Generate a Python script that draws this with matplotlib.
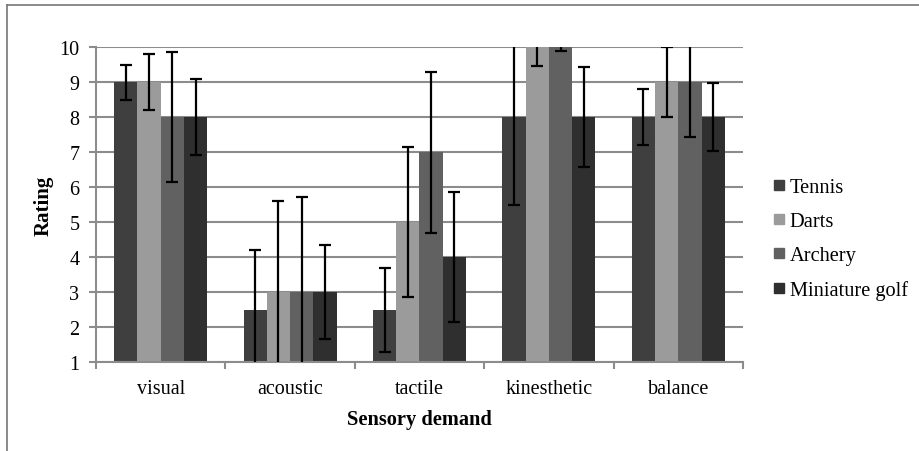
import matplotlib
matplotlib.use("Agg")
import matplotlib.pyplot as plt
import numpy as np
from matplotlib.lines import Line2D

categories = ["visual", "acoustic", "tactile", "kinesthetic", "balance"]
series_names = ["Tennis", "Darts", "Archery", "Miniature golf"]
tennis = [9, 2.5, 2.5, 8, 8]
darts = [9, 3, 5, 10, 9]
archery = [8, 3, 7, 10, 9]
minigolf = [8, 3, 4, 8, 8]
tennis_err = [0.5, 1.7, 1.2, 2.5, 0.8]
darts_err = [0.8, 2.6, 2.15, 0.53, 1.0]
archery_err = [1.87, 2.72, 2.3, 0.1, 1.56]
minigolf_err = [1.08, 1.33, 1.85, 1.42, 0.97]
yticks = [1, 2, 3, 4, 5, 6, 7, 8, 9, 10]

values = [tennis, darts, archery, minigolf]
errors = [tennis_err, darts_err, archery_err, minigolf_err]
colors = ["#3f3f3f", "#9b9b9b", "#616161", "#2f2f2f"]
grid_c = "#8c8c8c"

plt.rcParams['font.family'] = ['Liberation Serif', 'DejaVu Serif']

fig = plt.figure(figsize=(9.19, 4.52), dpi=100)
ax = fig.add_axes([96/919, 1-363/452, (743-96)/919, (363-48)/452])

x = np.arange(len(categories))
bw = 0.18
for i, (vals, errs, c) in enumerate(zip(values, errors, colors)):
    pos = x + (i - 1.5) * bw
    ax.bar(pos, np.array(vals) - 1, bottom=1, width=bw, color=c, zorder=2, label=series_names[i])
    ax.errorbar(pos, vals, yerr=errs, fmt='none', ecolor='black', elinewidth=1.6,
                capsize=4, capthick=1.6, zorder=3)

ax.set_xlim(-0.5, len(categories) - 0.5)
ax.set_ylim(1, 10)
ax.set_yticks(yticks)
ax.set_yticklabels([str(t) for t in yticks], fontsize=14.5)
ax.yaxis.grid(True, color=grid_c, linewidth=1.5, zorder=0)
ax.set_axisbelow(True)

ax.set_xticks(x)
ax.set_xticklabels(categories, fontsize=14.5)
ax.tick_params(axis='x', which='major', length=0, pad=12)
ax.set_xticks(np.arange(-0.5, len(categories)), minor=True)
ax.tick_params(axis='x', which='minor', length=5, width=1.5, color=grid_c, direction='out')
ax.tick_params(axis='y', length=5, width=1.5, color=grid_c, direction='out', pad=7)

for s in ['top', 'right']:
    ax.spines[s].set_visible(False)
for s in ['left', 'bottom']:
    ax.spines[s].set_color(grid_c)
    ax.spines[s].set_linewidth(1.5)

ax.set_xlabel("Sensory demand", fontsize=14.7, fontweight='bold', labelpad=8)
ax.set_ylabel("Rating", fontsize=15, fontweight='bold', labelpad=4)

handles = [Line2D([], [], marker='s', linestyle='none', markersize=7, color=c) for c in colors]
fig.legend(handles, series_names, loc='center left', bbox_to_anchor=(754/919, 1-240/452),
           frameon=False, fontsize=14.7, handlelength=0.6, handletextpad=0.25, labelspacing=0.72)

# figure border lines (top and left)
fig.add_artist(Line2D([7/919, 1], [1-6/452, 1-6/452], color="#777777", linewidth=1.2, transform=fig.transFigure))
fig.add_artist(Line2D([7/919, 7/919], [0, 1-6/452], color="#777777", linewidth=1.2, transform=fig.transFigure))

fig.savefig("out.png", dpi=100)
